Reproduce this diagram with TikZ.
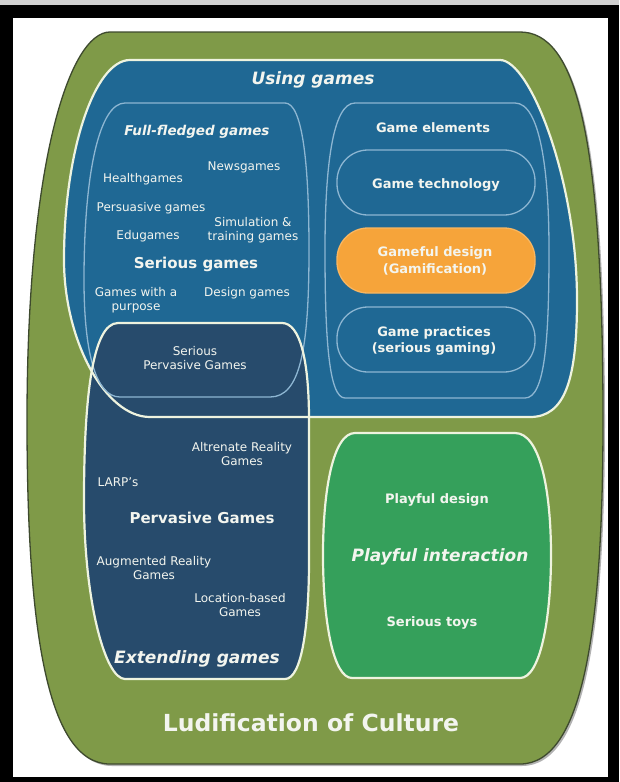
\documentclass[tikz,border=0pt]{standalone}
\usepackage{fontspec}
\setmainfont{DejaVu Sans}
\definecolor{culture}{HTML}{7F9A48}
\definecolor{cultureline}{HTML}{3E4A2E}
\definecolor{usingblue}{HTML}{1F6894}
\definecolor{pervnavy}{HTML}{274B6C}
\definecolor{playgreen}{HTML}{35A05B}
\definecolor{gamefulorange}{HTML}{F6A43A}
\definecolor{rimwhite}{HTML}{EEF3DF}
\definecolor{thinblue}{HTML}{8DB6D2}
\definecolor{txt}{HTML}{F3F5EF}
\newcommand\culturepath[1]{\path[#1] (110,32) -- (520,32) .. controls (575,32) and (603,130) .. (603,420) .. controls (603,620) and (585,764) .. (520,764) -- (110,764) .. controls (45,764) and (27,620) .. (27,420) .. controls (27,160) and (70,32) .. (110,32) -- cycle;}
\newcommand\usingpath[1]{\path[#1] (130,60) -- (500,60) .. controls (530,60) and (577,180) .. (577,300) .. controls (577,380) and (565,417) .. (530,417) -- (150,417) .. controls (105,417) and (64,340) .. (64,260) .. controls (64,150) and (95,60) .. (130,60) -- cycle;}
\newcommand\pervpath[1]{\path[#1] (118,323) -- (282,323) .. controls (300,323) and (309,360) .. (309,420) -- (309,560) .. controls (309,625) and (302,679) .. (285,679) -- (125,679) .. controls (105,679) and (84,600) .. (84,500) .. controls (84,400) and (92,323) .. (118,323) -- cycle;}
\tikzset{
  lbl/.style={text=txt, font=\fontsize{12}{14}\selectfont, align=center, inner sep=0pt},
  hdr/.style={text=txt, font=\bfseries\fontsize{13}{16.5}\selectfont, align=center, inner sep=0pt},
  big/.style={text=txt, font=\bfseries\fontsize{15}{18}\selectfont, inner sep=0pt},
  ttl/.style={text=txt, font=\bfseries\itshape\fontsize{17}{20}\selectfont, inner sep=0pt},
  rim/.style={draw=rimwhite, line width=2.2pt},
  thin/.style={draw=thinblue, line width=1.3pt},
  pill/.style={thin, rounded corners=31pt}
}
\begin{document}
\begin{tikzpicture}[x=1pt,y=-1pt]
\useasboundingbox (0,0) rectangle (619,782);
% frame
\fill[black!18] (0,0) rectangle (619,5);
\fill[black] (0,5) rectangle (619,782);
\fill[white] (13,18) rectangle (608,777);

% ludification of culture (outer)
\culturepath{fill=black!30, shift={(2,2)}}
\culturepath{fill=culture, draw=cultureline, line width=1.3pt}

% using games, with the pervasive games overlapping it
\usingpath{fill=usingblue}
\pervpath{fill=pervnavy}
\usingpath{rim}

% full-fledged games group
\path[thin] (125,103) -- (285,103) .. controls (302,103) and (309,160) .. (309,250) .. controls (309,350) and (300,397) .. (270,397) -- (120,397) .. controls (95,397) and (84,350) .. (84,280) .. controls (84,170) and (100,103) .. (125,103) -- cycle;

% game elements group
\path[thin] (355,103) -- (515,103) .. controls (540,103) and (549,170) .. (549,250) .. controls (549,340) and (545,398) .. (525,398) -- (345,398) .. controls (329,398) and (325,340) .. (325,250) .. controls (325,170) and (332,103) .. (355,103) -- cycle;
\path[pill] (337,150) rectangle (535,215);
\path[pill, fill=gamefulorange, draw=gamefulorange!80!white] (337,228) rectangle (535,293);
\path[pill] (337,307) rectangle (535,372);

\pervpath{rim}

% playful interaction
\path[fill=playgreen, rim] (355,433) -- (515,433) .. controls (540,433) and (551,490) .. (551,555) .. controls (551,620) and (540,678) .. (520,678) -- (352,678) .. controls (333,678) and (323,620) .. (323,555) .. controls (323,490) and (333,433) .. (355,433) -- cycle;

% texts
\node[ttl] (using) at (313,80) {Using games};
\node[text=txt, font=\bfseries\itshape\fontsize{13.5}{16}\selectfont, inner sep=0pt] (full) at (197,132) {Full-fledged games};
\node[lbl] (news) at (244,167) {Newsgames};
\node[lbl] (health) at (143,179) {Healthgames};
\node[lbl] (persuasive) at (151,208) {Persuasive games};
\node[lbl] (simulation) at (253,230) {Simulation \&\\training games};
\node[lbl] (edu) at (148,236) {Edugames};
\node[big] (serious) at (196,264) {Serious games};
\node[lbl] (purpose) at (136,300) {Games with a\\purpose};
\node[lbl] (design) at (247,293) {Design games};

\node[hdr] (elements) at (433,128) {Game elements};
\node[hdr] (technology) at (436,185) {Game technology};
\node[hdr] (gameful) at (435,261) {Gameful design\\(Gamification)};
\node[hdr] (practices) at (434,341) {Game practices\\(serious gaming)};

\node[lbl, font=\fontsize{12}{13.5}\selectfont] (seriousperv) at (195,358) {Serious\\Pervasive Games};
\node[lbl] (arg) at (242,454) {Altrenate Reality\\Games};
\node[lbl] (larp) at (118,482) {LARP’s};
\node[big] (pervasive) at (202,518) {Pervasive Games};
\node[lbl] (augmented) at (154,568) {Augmented Reality\\Games};
\node[lbl] (location) at (240,605) {Location-based\\Games};
\node[ttl] (extending) at (197,659) {Extending games};

\node[hdr] (playdesign) at (437,500) {Playful design};
\node[ttl] (playful) at (440,557) {Playful interaction};
\node[hdr] (toys) at (432,623) {Serious toys};

\node[text=txt, font=\bfseries\fontsize{23.5}{28}\selectfont, inner sep=0pt] (ludification) at (311,723) {Ludification of Culture};
\end{tikzpicture}
\end{document}
